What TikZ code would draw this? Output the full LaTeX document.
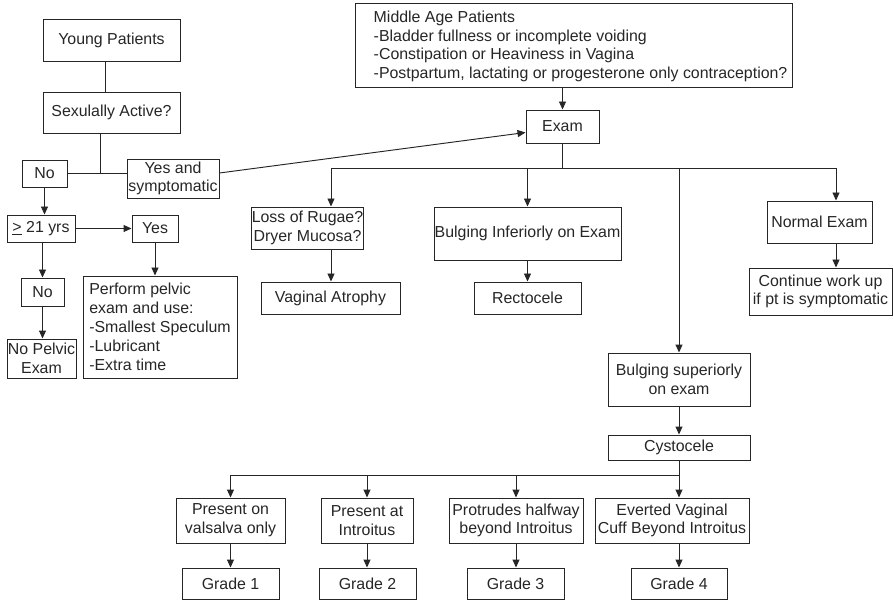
\documentclass[tikz,border=0pt]{standalone}
\usepackage{fontspec}
\setmainfont{Liberation Sans}
\usetikzlibrary{arrows.meta,calc}
\definecolor{ink}{RGB}{38,38,38}
\begin{document}
\begin{tikzpicture}[x=1pt,y=-1pt,
  box/.style={draw=ink, line width=0.95pt, inner sep=0pt, align=center, text=ink,
              font=\fontsize{15.9}{18.7}\selectfont},
  txt/.style={inner sep=0pt, text=ink, font=\fontsize{15.9}{18.7}\selectfont},
  link/.style={draw=ink, line width=0.95pt},
  arr/.style={link, -{Triangle[length=8pt,width=7pt]}}]
\useasboundingbox (0,0) rectangle (893,601);

% ---- young patients branch ----
\node[box, minimum width=137pt, minimum height=42pt] (yp) at (111.5,40) {Young Patients};
\node[box, minimum width=137pt, minimum height=41pt] (sa) at (111.5,112.5) {Sexulally Active?};
\node[box, minimum width=45pt, minimum height=27pt] (no1) at (44.5,173.5) {No};
\node[box, minimum width=92pt, minimum height=39pt] (ys) at (173,178.5) {Yes and\\symptomatic};
\node[box, minimum width=68pt, minimum height=27pt] (ge) at (41,228.5) {\underline{>} 21 yrs};
\node[box, minimum width=46pt, minimum height=27pt] (yes) at (155,228.5) {Yes};
\node[box, minimum width=43pt, minimum height=28pt] (no2) at (42.5,292) {No};
\node[box, minimum width=69pt, minimum height=39pt] (npe) at (41.5,358.5) {No Pelvic\\Exam};
\node[box, minimum width=154pt, minimum height=102pt, align=left,
      font=\fontsize{15.9}{19}\selectfont] (perf) at (160,327)
  {Perform pelvic\\exam and use:\\-Smallest Speculum\\-Lubricant\\-Extra time};

% ---- middle age patients and exam ----
\node[box, minimum width=437pt, minimum height=84pt] (mid) at (573.5,45) {};
\node[txt, anchor=west, align=left] (midtext) at ($(mid.west)+(19,1.5)$)
  {Middle Age Patients\\-Bladder fullness or incomplete voiding\\-Constipation or Heaviness in Vagina\\-Postpartum, lactating or progesterone only contraception?};
\node[box, minimum width=73pt, minimum height=33pt] (exam) at (562.5,126.5) {Exam};

% ---- exam findings ----
\node[box, minimum width=93pt, minimum height=42pt] (rug) at (307.5,228) {Loss of Rugae?\\Dryer Mucosa?};
\node[box, minimum width=139pt, minimum height=32pt] (va) at (330.5,298) {Vaginal Atrophy};
\node[box, minimum width=187pt, minimum height=53pt] (bi) at (527.5,233.5) {Bulging Inferiorly on Exam};
\node[box, minimum width=107pt, minimum height=32pt] (rect) at (527.5,298) {Rectocele};
\node[box, minimum width=105pt, minimum height=42pt] (ne) at (819.5,222) {Normal Exam};
\node[box, minimum width=143pt, minimum height=47pt] (cont) at (820.5,291.5) {Continue work up\\if pt is symptomatic};
\node[box, minimum width=142pt, minimum height=53pt] (bs) at (679,379.5) {Bulging superiorly\\on exam};
\node[box, minimum width=142pt, minimum height=25pt] (cys) at (679,447.5) {Cystocele};

% ---- cystocele grades ----
\node[box, minimum width=109pt, minimum height=45pt] (p1) at (230.5,520.5) {Present on\\valsalva only};
\node[box, minimum width=92pt, minimum height=45pt] (p2) at (367,520.5) {Present at\\Introitus};
\node[box, minimum width=134pt, minimum height=45pt] (p3) at (516,520.5) {Protrudes halfway\\beyond Introitus};
\node[box, minimum width=154pt, minimum height=45pt] (p4) at (672,520.5) {Everted Vaginal\\Cuff Beyond Introitus};
\node[box, minimum width=97pt, minimum height=31pt] (g1) at (230.5,583.5) {Grade 1};
\node[box, minimum width=97pt, minimum height=31pt] (g2) at (367.5,583.5) {Grade 2};
\node[box, minimum width=97pt, minimum height=31pt] (g3) at (515.5,583.5) {Grade 3};
\node[box, minimum width=96pt, minimum height=31pt] (g4) at (679,583.5) {Grade 4};

% ---- junction points ----
\coordinate (xa) at (105,0);
\coordinate (jn) at (100,173);
\coordinate (bus) at (562.5,168);
\coordinate (c1) at (331,168);
\coordinate (c2) at (527.5,168);
\coordinate (c3) at (679,168);
\coordinate (c4) at (836,168);
\coordinate (d1) at (230.5,475);
\coordinate (d2) at (367,475);
\coordinate (d3) at (516,475);
\coordinate (d4) at (679,475);

% ---- connectors: young patients ----
\draw[link] (yp.south -| xa) -- (sa.north -| xa);
\draw[link] (sa.south -| jn) -- (jn);
\draw[link] (no1.east |- jn) -- (ys.west |- jn);
\draw[arr] (ys.east |- jn) -- ($(exam.west)+(0,6)$);
\draw[arr] (no1.south) -- (ge.north -| no1.south);
\draw[arr] (ge.east) -- (yes.west);
\draw[arr] (ge.south -| no2.north) -- (no2.north);
\draw[arr] (no2.south) -- (npe.north -| no2.south);
\draw[arr] (yes.south) -- (perf.north -| yes.south);

% ---- connectors: exam ----
\draw[arr] (mid.south -| exam.north) -- (exam.north);
\draw[link] (exam.south) -- (bus);
\draw[link] (c1) -- (c4);
\draw[arr] (c1) -- (c1 |- rug.north);
\draw[arr] (c2) -- (bi.north);
\draw[arr] (c3) -- (bs.north);
\draw[arr] (c4) -- (c4 |- ne.north);
\draw[arr] (rug.south -| c1) -- (va.north -| c1);
\draw[arr] (bi.south) -- (rect.north);
\draw[arr] (ne.south -| c4) -- (cont.north -| c4);
\draw[arr] (bs.south) -- (cys.north);

% ---- connectors: grades ----
\draw[link] (cys.south) -- (d4);
\draw[link] (d1) -- (d4);
\draw[arr] (d1) -- (p1.north);
\draw[arr] (d2) -- (p2.north);
\draw[arr] (d3) -- (p3.north);
\draw[arr] (d4) -- (d4 |- p4.north);
\draw[arr] (p1.south) -- (g1.north);
\draw[arr] (p2.south) -- (p2.south |- g2.north);
\draw[arr] (p3.south) -- (p3.south |- g3.north);
\draw[arr] (p4.south -| g4.north) -- (g4.north);
\end{tikzpicture}
\end{document}
